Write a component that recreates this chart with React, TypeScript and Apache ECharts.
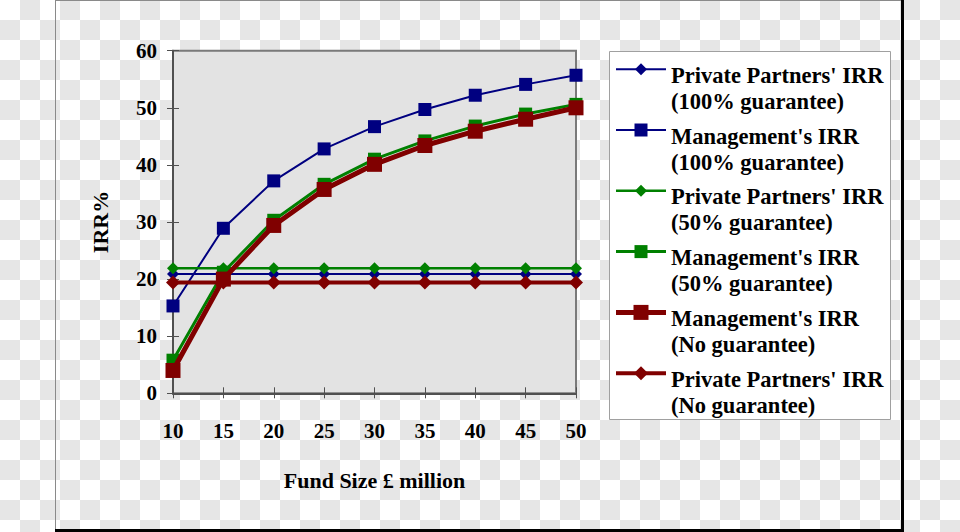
import React, { useEffect, useRef } from 'react';
import * as echarts from 'echarts';

// ---- data ----
const fundSizes = ['10', '15', '20', '25', '30', '35', '40', '45', '50'];
const ppIrr100 = [20.9, 20.9, 20.9, 20.9, 20.9, 20.9, 20.9, 20.9, 20.9];
const mgmtIrr100 = [15.3, 28.9, 37.2, 42.8, 46.7, 49.7, 52.2, 54.1, 55.7];
const ppIrr50 = [21.9, 21.9, 21.9, 21.9, 21.9, 21.9, 21.9, 21.9, 21.9];
const mgmtIrr50 = [5.8, 21.2, 30.3, 36.6, 41.0, 44.2, 46.8, 48.9, 50.6];
const mgmtIrrNone = [4.0, 20.0, 29.4, 35.7, 40.1, 43.4, 45.9, 48.0, 50.0];
const ppIrrNone = [19.4, 19.4, 19.4, 19.4, 19.4, 19.4, 19.4, 19.4, 19.4];

const nameLine1 = [
  "Private Partners' IRR",
  "Management's IRR",
  "Private Partners' IRR",
  "Management's IRR",
  "Management's IRR",
  "Private Partners' IRR",
];
const nameLine2 = [
  '(100% guarantee)',
  '(100% guarantee)',
  '(50% guarantee)',
  '(50% guarantee)',
  '(No guarantee)',
  '(No guarantee)',
];
const seriesData = [ppIrr100, mgmtIrr100, ppIrr50, mgmtIrr50, mgmtIrrNone, ppIrrNone];

const yMin = 0;
const yMax = 60;
const yStep = 10;
const xTitle = 'Fund Size £ million';
const yTitle = 'IRR%';

// ---- styles ----
const NAVY = '#000080';
const GREEN = '#008000';
const MAROON = '#800000';
const styles = [
  { color: NAVY, symbol: 'diamond', size: 12, width: 2 },
  { color: NAVY, symbol: 'rect', size: 13, width: 2 },
  { color: GREEN, symbol: 'diamond', size: 12, width: 2.5 },
  { color: GREEN, symbol: 'rect', size: 13, width: 3 },
  { color: MAROON, symbol: 'rect', size: 15, width: 5 },
  { color: MAROON, symbol: 'diamond', size: 14, width: 4 },
];

const FONT = '"Liberation Serif", "Times New Roman", serif';
const AXIS_GREY = '#505050';

// transparent-background checkerboard (decoration)
function checkerGraphics() {
  const els: any[] = [];
  for (let j = 0; j < 27; j++) {
    for (let i = 0; i < 48; i++) {
      if ((i + j) % 2 === 1) {
        els.push({
          type: 'rect',
          silent: true,
          shape: { x: i * 20, y: j * 20, width: 20, height: 20 },
          style: { fill: '#e6e6e6', opacity: 1 },
          z: 0,
          zlevel: 0,
        });
      }
    }
  }
  return els;
}

function legendGraphics() {
  const els: any[] = [];
  els.push({
    type: 'rect',
    shape: { x: 609.5, y: 51.5, width: 281, height: 368 },
    style: { fill: '#ffffff', stroke: '#a0a0a0', lineWidth: 1 },
    z: 10,
  });
  nameLine1.forEach((l1, k) => {
    const st = styles[k];
    const c1 = 75.3 + 60.8 * k;
    const iy = 69.2 + 60.8 * k;
    const cx = 641;
    els.push({
      type: 'line',
      shape: { x1: 616, y1: iy, x2: 666, y2: iy },
      style: { stroke: st.color, lineWidth: st.width },
      z: 11,
    });
    if (st.symbol === 'rect') {
      const s = st.size;
      els.push({
        type: 'rect',
        shape: { x: cx - s / 2, y: iy - s / 2, width: s, height: s },
        style: { fill: st.color },
        z: 12,
      });
    } else {
      const s = st.size / 2;
      els.push({
        type: 'polygon',
        shape: { points: [[cx, iy - s], [cx + s, iy], [cx, iy + s], [cx - s, iy]] },
        style: { fill: st.color },
        z: 12,
      });
    }
    els.push({
      type: 'text',
      x: 671,
      y: c1,
      style: { text: l1, fill: '#000', font: `bold 22.5px ${FONT}`, verticalAlign: 'middle' },
      z: 12,
    });
    els.push({
      type: 'text',
      x: 671,
      y: c1 + 26,
      style: { text: nameLine2[k], fill: '#000', font: `bold 22.5px ${FONT}`, verticalAlign: 'middle' },
      z: 12,
    });
  });
  return els;
}

function frameGraphics() {
  return [
    { type: 'line', shape: { x1: 55, y1: 0.5, x2: 904, y2: 0.5 }, style: { stroke: '#8a8a8a', lineWidth: 1 }, z: 1 },
    { type: 'line', shape: { x1: 55.5, y1: 0, x2: 55.5, y2: 532 }, style: { stroke: '#8a8a8a', lineWidth: 1 }, z: 1 },
    { type: 'rect', shape: { x: 901, y: 0, width: 3, height: 532 }, style: { fill: '#000' }, z: 1 },
    { type: 'rect', shape: { x: 55, y: 529, width: 849, height: 3 }, style: { fill: '#000' }, z: 1 },
  ];
}

export default function App() {
  const ref = useRef<HTMLDivElement>(null);

  useEffect(() => {
    if (!ref.current) return;
    const chart = echarts.init(ref.current, undefined, { renderer: 'svg' });
    const labelStyle = { fontFamily: FONT, fontWeight: 'bold', fontSize: 21, color: '#000' };
    const nameStyle = { fontFamily: FONT, fontWeight: 'bold', fontSize: 22, color: '#000' };
    const option: any = {
      animation: false,
      backgroundColor: '#ffffff',
      grid: {
        show: true,
        left: 173,
        right: 384,
        top: 50.7,
        bottom: 138.7,
        backgroundColor: '#e3e3e3',
        borderColor: '#7a7a7a',
        borderWidth: 2,
        outerBoundsMode: 'none',
        z: 1,
      },
      xAxis: [
        {
          type: 'category',
          data: fundSizes,
          boundaryGap: false,
          name: xTitle,
          nameLocation: 'middle',
          nameGap: 76,
          nameTextStyle: nameStyle,
          axisLine: { show: true, lineStyle: { color: AXIS_GREY, width: 2 } },
          axisTick: { show: true, length: 5, lineStyle: { color: AXIS_GREY, width: 1 } },
          axisLabel: { ...labelStyle, margin: 27 },
          splitLine: { show: false },
          z: 3,
        },
        {
          type: 'category',
          data: fundSizes,
          boundaryGap: false,
          position: 'bottom',
          axisLine: { show: false },
          axisTick: { show: true, inside: true, length: 6, lineStyle: { color: AXIS_GREY, width: 1 } },
          axisLabel: { show: false },
          splitLine: { show: false },
          z: 3,
        },
      ],
      yAxis: [
        {
          type: 'value',
          min: yMin,
          max: yMax,
          interval: yStep,
          name: yTitle,
          nameLocation: 'middle',
          nameGap: 62,
          nameTextStyle: nameStyle,
          axisLine: { show: true, lineStyle: { color: AXIS_GREY, width: 2 } },
          axisTick: { show: true, length: 6, lineStyle: { color: AXIS_GREY, width: 1 } },
          axisLabel: { ...labelStyle, margin: 16 },
          splitLine: { show: false },
          z: 3,
        },
        {
          type: 'value',
          min: yMin,
          max: yMax,
          interval: yStep,
          position: 'left',
          axisLine: { show: false },
          axisTick: { show: true, inside: true, length: 6, lineStyle: { color: AXIS_GREY, width: 1 } },
          axisLabel: { show: false },
          splitLine: { show: false },
          z: 3,
        },
      ],
      series: seriesData.map((d, i) => ({
        type: 'line',
        name: `${nameLine1[i]} ${nameLine2[i]}`,
        data: d,
        xAxisIndex: 0,
        yAxisIndex: 0,
        z: 4 + i,
        symbol: styles[i].symbol,
        symbolSize: styles[i].size,
        showAllSymbol: true,
        lineStyle: { color: styles[i].color, width: styles[i].width },
        itemStyle: { color: styles[i].color, borderWidth: 0 },
      })),
      graphic: { elements: [...checkerGraphics(), ...frameGraphics(), ...legendGraphics()] },
    };
    chart.setOption(option);
    return () => chart.dispose();
  }, []);

  return (
    <div style={{ position: 'absolute', left: 0, top: 0, width: 960, height: 532 }}>
      <div ref={ref} style={{ width: 960, height: 532 }} />
    </div>
  );
}
